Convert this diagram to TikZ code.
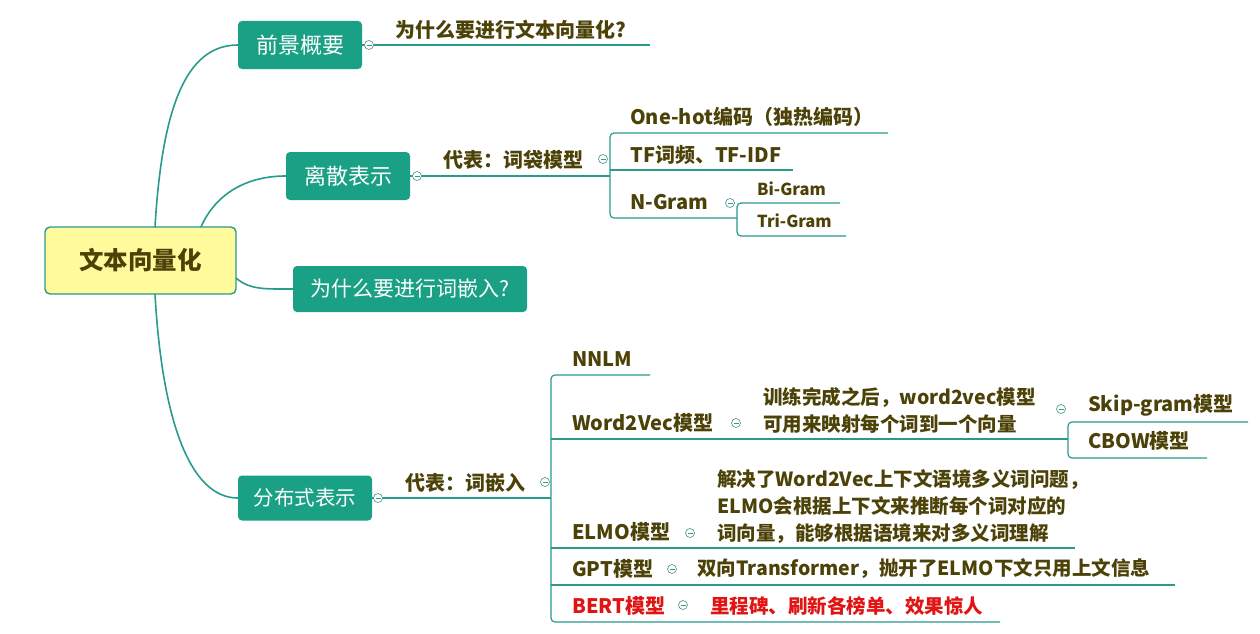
\documentclass[tikz,border=0pt]{standalone}
\usepackage{fontspec}
\setmainfont{Noto Sans CJK SC}
\definecolor{teal1}{RGB}{26,160,133}
\definecolor{lineteal}{RGB}{40,155,140}
\definecolor{olive}{RGB}{76,66,8}
\definecolor{rootfill}{RGB}{255,250,156}
\definecolor{redtxt}{RGB}{225,20,20}
\tikzset{
  rootbox/.style={draw=lineteal, line width=1.4pt, fill=rootfill, rounded corners=5pt, text=olive, font=\fontsize{24.5}{28}\selectfont\bfseries, inner sep=0pt},
  branch/.style={fill=teal1, rounded corners=4pt, text=white, font=\fontsize{22}{26}\selectfont, inner sep=0pt},
  topic/.style={anchor=west, text=olive, font=\fontsize{20}{24}\selectfont\bfseries, inner sep=0pt},
  small/.style={anchor=west, text=olive, font=\fontsize{16.5}{20}\selectfont\bfseries, inner sep=0pt},
  desc/.style={anchor=west, text=olive, font=\fontsize{19.5}{27}\selectfont\bfseries, inner sep=0pt, align=left},
  conn/.style={draw=lineteal, line width=1.2pt},
  curve/.style={draw=lineteal, line width=1.6pt},
  collapse/.style={circle, draw=lineteal!70!gray, fill=white, line width=0.6pt, minimum size=9pt, inner sep=0pt,
    path picture={\draw[lineteal!70!gray, line width=0.6pt] ([xshift=-2.5pt]path picture bounding box.center) -- ([xshift=2.5pt]path picture bounding box.center);}}
}
\begin{document}
\begin{tikzpicture}[x=1pt,y=-1pt]
\useasboundingbox (0,0) rectangle (1260,634);
\fill[white] (0,0) rectangle (1260,634);

% main nodes
\node[rootbox, minimum width=191pt, minimum height=67pt] (root) at (140.5,260.5) {文本向量化};
\node[branch, minimum width=124pt, minimum height=48pt] (qj) at (300,45) {前景概要};
\node[branch, minimum width=124pt, minimum height=48pt] (ls) at (348,176) {离散表示};
\node[branch, minimum width=234pt, minimum height=46pt, font=\fontsize{21}{25}\selectfont] (cqr) at (410,289) {为什么要进行词嵌入?};
\node[branch, minimum width=134pt, minimum height=45pt, font=\fontsize{20.5}{25}\selectfont] (fb) at (305,498) {分布式表示};

% curves from root
\coordinate (r1) at (155,227);
\coordinate (r2) at (201,227);
\coordinate (r3) at (236,278);
\coordinate (r4) at (155,294);
\draw[curve] (r1) .. controls (162,110) and (185,45) .. (qj.west);
\draw[curve] (r2) .. controls (215,195) and (245,176) .. (ls.west);
\draw[curve] (r3) .. controls (250,290) and (265,289) .. (cqr.west);
\draw[curve] (r4) .. controls (162,420) and (190,498) .. (fb.west);

% section 1
\coordinate (e1) at (650,45);
\draw[conn] (qj.east) -- (e1);
\node[collapse] (c1) at (369,45) {};
\node[topic] (t1) at (395,30) {为什么要进行文本向量化?};

% section 2
\coordinate (b2) at (610,176);
\coordinate (oh) at (888,133);
\coordinate (tfe) at (793,170);
\coordinate (tfs) at (610,170);
\coordinate (ng) at (737,218);
\draw[conn] (ls.east) -- (b2);
\draw[conn, rounded corners=4pt] (oh) -- (610,133) -- (610,218) -- (ng);
\draw[conn] (tfs) -- (tfe);
\node[collapse] (c2) at (417,176) {};
\node[topic] (t2) at (443,160) {代表：词袋模型};
\node[collapse] (c3) at (603,159) {};
\node[topic] (oneh) at (630,117) {One-hot编码（独热编码）};
\node[topic] (tf) at (630,155) {TF词频、TF-IDF};
\node[topic] (ngram) at (630,202) {N-Gram};
\node[collapse] (c4) at (730,203) {};
\coordinate (bi) at (840,203);
\coordinate (tri) at (846,236);
\draw[conn, rounded corners=4pt] (bi) -- (737,203) -- (737,236) -- (tri);
\node[small] (big) at (757,189) {Bi-Gram};
\node[small] (trig) at (757,221) {Tri-Gram};

% section 4
\coordinate (b4) at (551,498);
\draw[conn] (fb.east) -- (b4);
\coordinate (nn) at (650,375);
\coordinate (bt) at (1000,622);
\draw[conn, rounded corners=4pt] (nn) -- (551,375) -- (551,622) -- (bt);
\coordinate (w2v) at (1068,439);
\coordinate (elmo) at (1075,548);
\coordinate (gpt) at (1175,585);
\draw[conn] (551,439) -- (w2v);
\draw[conn] (551,548) -- (elmo);
\draw[conn] (551,585) -- (gpt);
\coordinate (sk) at (1248,422);
\coordinate (cb) at (1207,458);
\draw[conn, rounded corners=4pt] (sk) -- (1068,422) -- (1068,458) -- (cb);

\node[collapse] (c5) at (378,498) {};
\node[topic] (t4) at (405,483) {代表：词嵌入};
\node[collapse] (c6) at (545,482) {};
\node[topic] (nnlm) at (572,359) {NNLM};
\node[topic] (w2vt) at (572,423) {Word2Vec模型};
\node[collapse] (c7) at (736,423) {};
\node[desc] (w2vd) at (763,410) {训练完成之后，word2vec模型\\可用来映射每个词到一个向量};
\node[collapse] (c8) at (1061,409) {};
\node[topic] (skt) at (1088,405) {Skip-gram模型};
\node[topic] (cbt) at (1088,441) {CBOW模型};
\node[topic] (elmot) at (572,532) {ELMO模型};
\node[collapse] (c9) at (690,533) {};
\node[desc] (elmod) at (717,507) {解决了Word2Vec上下文语境多义词问题，\\ELMO会根据上下文来推断每个词对应的\\词向量，能够根据语境来对多义词理解};
\node[topic] (gptt) at (572,569) {GPT模型};
\node[collapse] (c10) at (672,569) {};
\node[desc] (gptd) at (697,569) {双向Transformer，抛开了ELMO下文只用上文信息};
\node[topic, text=redtxt] (bertt) at (572,606) {BERT模型};
\node[collapse] (c11) at (683,605) {};
\node[desc, text=redtxt] (bertd) at (710,606) {里程碑、刷新各榜单、效果惊人};
\end{tikzpicture}
\end{document}
